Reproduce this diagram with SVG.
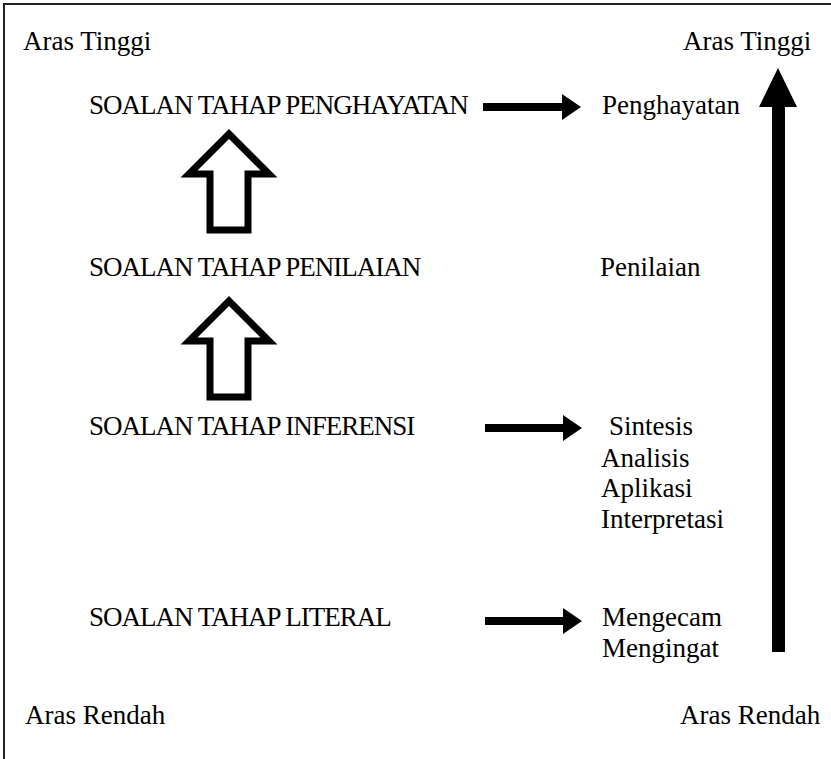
<svg xmlns="http://www.w3.org/2000/svg" width="831" height="759" viewBox="0 0 831 759">
<style>
text{font-family:'Liberation Serif','Times New Roman',serif;fill:#000}
.t{font-size:27px}
.s{font-size:27px;letter-spacing:-1px;word-spacing:0px}
.hollow{fill:#fff;stroke:#000;stroke-width:7;stroke-linejoin:miter;stroke-miterlimit:10}
.solid{fill:#000}
</style>
<rect width="831" height="759" fill="#fff"/>
<path d="M4,760 V4 H832" fill="none" stroke="#222" stroke-width="2"/>
<g id="label-high-left"><text class="t" x="23" y="50">Aras Tinggi</text></g>
<g id="label-high-right"><text class="t" x="683" y="50">Aras Tinggi</text></g>
<g id="label-low-left"><text class="t" x="25" y="724">Aras Rendah</text></g>
<g id="label-low-right"><text class="t" x="680" y="724">Aras Rendah</text></g>
<g id="node-penghayatan"><text class="s" x="89" y="114">SOALAN TAHAP PENGHAYATAN</text></g>
<g id="node-penilaian"><text class="s" x="89" y="276">SOALAN TAHAP PENILAIAN</text></g>
<g id="node-inferensi"><text class="s" x="89" y="435">SOALAN TAHAP INFERENSI</text></g>
<g id="node-literal"><text class="s" x="89" y="626">SOALAN TAHAP LITERAL</text></g>
<g id="out-penghayatan"><text class="t" x="602" y="114">Penghayatan</text></g>
<g id="out-penilaian"><text class="t" x="600" y="276">Penilaian</text></g>
<g id="out-inferensi">
<text class="t" x="609" y="435">Sintesis</text>
<text class="t" x="601" y="467">Analisis</text>
<text class="t" x="601" y="497">Aplikasi</text>
<text class="t" x="601" y="528">Interpretasi</text>
</g>
<g id="out-literal">
<text class="t" x="602" y="626">Mengecam</text>
<text class="t" x="602" y="657">Mengingat</text>
</g>
<g id="connectors">
<polygon class="hollow" points="229,134 269,174 248,174 248,230 210,230 210,174 189,174"/>
<polygon class="hollow" points="229,301 269,341 248,341 248,397 210,397 210,341 189,341"/>
<polygon class="solid" points="483,103 562,103 562,94 581,107 562,120 562,111 483,111"/>
<polygon class="solid" points="485,424 563,424 563,415 582,428 563,441 563,432 485,432"/>
<polygon class="solid" points="485,617 563,617 563,608 582,621 563,634 563,625 485,625"/>
<polygon class="solid" points="772,652 772,107 759,107 778,68 797,107 785,107 785,652"/>
</g>
</svg>
